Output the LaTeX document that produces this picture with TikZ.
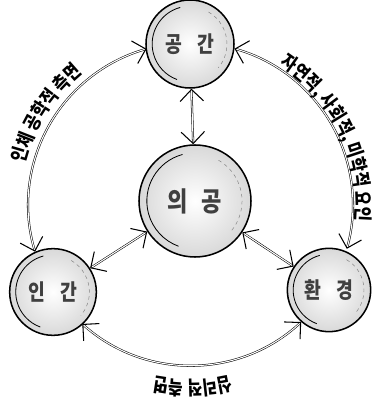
\documentclass[tikz,border=0pt]{standalone}
\usepackage{fontspec}
\newfontfamily\krc{Noto Sans CJK KR}[FakeStretch=0.82]
\usetikzlibrary{arrows.meta,decorations.text}

\tikzset{
  ball/.style={circle, draw, line width=1.3pt, minimum size=#1, inner sep=0pt,
    shading=radial, inner color=white, outer color=gray!30,
    font=\krc\bfseries\fontsize{19}{21}\selectfont, text=black!75,
    path picture={\draw[line width=0.7pt] (path picture bounding box.center) ++(105:0.43*#1)
      arc[start angle=105, end angle=250, radius=0.43*#1];
      \draw[gray, dashed, line width=0.4pt] (path picture bounding box.center) ++(60:0.42*#1)
      arc[start angle=60, end angle=-40, radius=0.42*#1];}},
  link/.style={double, double distance=0.9pt, line width=0.45pt,
    {Straight Barb[length=10pt,width=20pt,line width=0.9pt]}-{Straight Barb[length=10pt,width=20pt,line width=0.9pt]}},
  arclab/.style={decorate, decoration={text along path, text align=center,
    text={|\krc\bfseries\fontsize{16.5}{18}\selectfont|#1}}}
}

\begin{document}
\begin{tikzpicture}[x=0.03cm,y=0.03cm]
  \useasboundingbox (-190,-198) rectangle (184,205);
  % four circles
  \node[ball=2.64cm] (gong) at (0,161) {공\hspace{0.7em}간};
  \node[ball=2.6cm] (ingan) at (-137,-87) {인\hspace{0.7em}간};
  \node[ball=2.5cm] (hwan) at (139,-85) {환\hspace{0.7em}경};
  \node[ball=3.36cm, font=\krc\bfseries\fontsize{23}{25}\selectfont] (mid) at (5,4) {의\hspace{0.5em}공};
  % connectors
  \draw[link] (mid) -- (gong);
  \draw[link] (mid) -- (ingan);
  \draw[link] (mid) -- (hwan);
  \draw[link] (ingan.114) arc[start angle=196.8, end angle=105.6, radius=162];
  \draw[link] (gong.-6.5) arc[start angle=74.4, end angle=-15.8, radius=162];
  \draw[link] (hwan.229.6) arc[start angle=-47, end angle=-132, radius=162];
  % labels along the ring
  \path[arclab={인체 공학적 측면}] (178:170) arc[start angle=178, end angle=117, radius=170];
  \path[arclab={자연적, 사회적, 미학적 요인}] (80:166) arc[start angle=80, end angle=-28, radius=166];
  \path[arclab={심리적 측면}] (-60:176) arc[start angle=-60, end angle=-118, radius=176];
\end{tikzpicture}
\end{document}
